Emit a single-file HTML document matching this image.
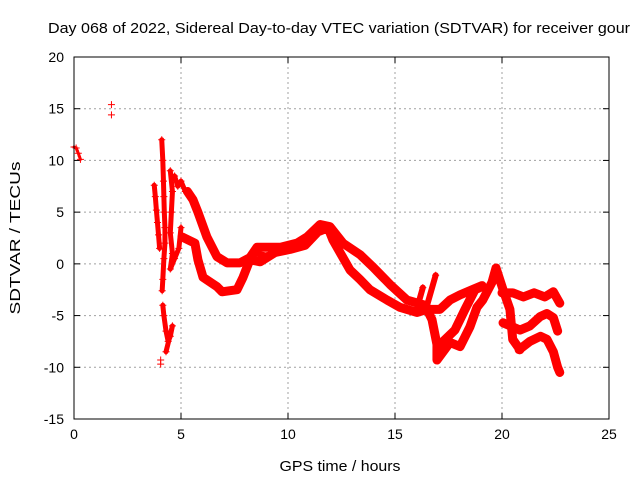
<!DOCTYPE html>
<html><head><meta charset="utf-8"><style>
html,body{margin:0;padding:0;background:#fff;}
svg{display:block;font-family:"Liberation Sans",sans-serif;}
</style></head><body>
<svg id="chart" width="640" height="480" viewBox="0 0 640 480">
<text x="48" y="33" font-size="15" textLength="582" lengthAdjust="spacingAndGlyphs" fill="#000">Day 068 of 2022, Sidereal Day-to-day VTEC variation (SDTVAR) for receiver gour</text>
<text transform="translate(20,238) rotate(-90)" text-anchor="middle" font-size="15" textLength="153" lengthAdjust="spacingAndGlyphs">SDTVAR / TECUs</text>
<text x="340" y="471" text-anchor="middle" font-size="15" textLength="121" lengthAdjust="spacingAndGlyphs">GPS time / hours</text>
<g id="grid"></g><g id="ticks"></g><g id="marks"></g>
<rect x="74" y="57" width="535" height="362" fill="none" stroke="#000" stroke-width="1"/>
</svg>
<script>
const xTicks=[0,5,10,15,20,25];
const yTicks=[-15,-10,-5,0,5,10,15,20];
// dense tracks: [hour, value]
const track1=[[5.3,7],[5.56,6.2],[5.79,5.0],[6.21,2.6],[6.68,0.7],[7.15,0.1],[7.76,0.1],[8.22,0.6],[8.55,1.6],[9.63,1.6],[10.42,2.0],[10.89,2.6],[11.5,3.8],[11.96,3.6],[12.57,2.0],[13.36,0.9],[13.97,-0.3],[14.77,-2.0],[15.56,-3.5],[16.4,-4.0],[16.73,-5.4],[16.96,-7.8],[16.96,-9.3],[17.57,-7.6],[18.04,-8.0],[18.5,-6.1],[18.83,-4.2],[19.1,-3.5],[19.53,-1.8],[19.72,-0.4],[20.05,-2.5],[20.37,-4.4],[20.5,-7.3],[20.84,-8.3]];
const track2=[[5.05,2.6],[5.65,2.0],[5.79,0.4],[6.03,-1.3],[6.68,-2.2],[6.92,-2.7],[7.62,-2.5],[7.9,-1.3],[8.22,0.4],[8.7,0.2],[9.4,1.1],[10.1,1.4],[10.8,1.8],[11.4,3.1],[11.87,3.5],[12.1,2.3],[12.9,-0.6],[13.36,-1.5],[13.83,-2.5],[14.63,-3.5],[15.23,-4.2],[16.03,-4.7],[16.5,-4.4],[17.1,-4.4],[17.57,-3.5],[18.04,-3.0],[18.6,-2.5],[19.07,-2.1]];
const track3=[[17.1,-7.8],[17.8,-6.4],[18.27,-4.4],[18.74,-2.5],[19.07,-2.2]];
const track4=[[16.0,-4.5],[16.3,-2.3]];
const track5=[[16.5,-4.0],[16.9,-1.1]];
const track6=[[20.0,-2.8],[20.5,-2.8],[21.0,-3.2],[21.5,-2.8],[22.0,-3.2],[22.4,-2.7],[22.7,-3.8]];
const track7=[[20.05,-5.7],[20.84,-6.4],[21.3,-6.0],[21.78,-5.1],[22.1,-4.8],[22.4,-5.2],[22.6,-6.5]];
const track8=[[20.8,-8.3],[21.3,-7.5],[21.8,-7.0],[22.1,-7.3],[22.4,-8.5],[22.6,-10.0],[22.7,-10.5]];
const track9=[[8.5,1.0],[9.0,0.8],[9.6,1.2],[10.2,1.6],[10.8,2.2]];
// sparse point clusters
const early=[[0,11.3],[0.1,11.2],[0.2,10.7],[0.3,10.1]];
const isolated=[[1.75,15.4],[1.75,14.4]];
const col1=[[3.75,7.6],[3.8,6.5],[3.85,5.2],[3.9,4.0],[3.95,2.8],[4.0,1.5]];
const col2=[[4.1,12],[4.15,10],[4.18,8],[4.2,6.5],[4.22,5],[4.25,3.5],[4.25,2],[4.2,0.5],[4.15,-1.5],[4.12,-2.6]];
const col2low=[[4.15,-4],[4.2,-5],[4.3,-6.5],[4.4,-7.5],[4.5,-7],[4.6,-6],[4.3,-8.5]];
const col2bottom=[[4.05,-9.3],[4.05,-9.7]];
const col3=[[4.5,9],[4.6,7],[4.55,5],[4.5,3],[4.6,1],[4.5,-0.5],[4.7,0.5],[4.9,1.5],[5.0,3.5]];
const col4=[[4.7,8.5],[4.85,7.5],[5.0,8],[5.2,7]];

const X0=74,X1=609,Y0=419,Y1=57;
const xs=v=>X0+(v-0)/(25-0)*(X1-X0);
const ys=v=>Y0-(v+15)/(35)*(Y0-Y1);
const NS="http://www.w3.org/2000/svg";
const grid=document.getElementById('grid'),ticks=document.getElementById('ticks'),marks=document.getElementById('marks');
function mk(tag,attrs,parent){const e=document.createElementNS(NS,tag);for(const k in attrs)e.setAttribute(k,attrs[k]);parent.appendChild(e);return e;}
xTicks.forEach(t=>{const x=xs(t);
 if(t>0&&t<25){const g=mk('line',{x1:x,y1:Y0,x2:x,y2:Y1,stroke:'#a0a0a0','stroke-dasharray':'2,3'},grid);
 
 }
 mk('line',{x1:x,y1:Y0,x2:x,y2:Y0-6,stroke:'#000'},ticks);
 mk('line',{x1:x,y1:Y1,x2:x,y2:Y1+6,stroke:'#000'},ticks);
 const l=mk('text',{x:x,y:Y0+20,'text-anchor':'middle','font-size':'14'},ticks);l.textContent=t;
 
 });
yTicks.forEach(t=>{const y=ys(t);
 if(t>-15&&t<20){const g=mk('line',{x1:X0,y1:y,x2:X1,y2:y,stroke:'#a0a0a0','stroke-dasharray':'2,3'},grid);
 
 }
 mk('line',{x1:X0,y1:y,x2:X0+6,y2:y,stroke:'#000'},ticks);
 mk('line',{x1:X1,y1:y,x2:X1-6,y2:y,stroke:'#000'},ticks);
 const l=mk('text',{x:X0-10,y:y+5,'text-anchor':'end','font-size':'14'},ticks);l.textContent=t;
 
 });
function plus(p){const x=xs(p[0]),y=ys(p[1]);
 const e=mk('path',{d:`M${x-3.5},${y}H${x+3.5}M${x},${y-3.5}V${y+3.5}`,stroke:'#f00','stroke-width':1},marks);
 
 }
function band(arr,w){const pl=mk('polyline',{points:arr.map(p=>xs(p[0])+','+ys(p[1])).join(' '),fill:'none',stroke:'#f00','stroke-width':w,'stroke-linejoin':'round','stroke-linecap':'round'},marks);
 
 
 arr.forEach(plus);}
[track1,track2,track3,track6,track7,track8].forEach(t=>band(t,9));
[track4,track5,track9].forEach(t=>band(t,6));
[col1,col2,col2low,col3,col4].forEach(t=>band(t,5));
[early].forEach(t=>band(t,3));
[isolated,col2bottom].forEach(t=>t.forEach(plus));
</script>
</body></html>
